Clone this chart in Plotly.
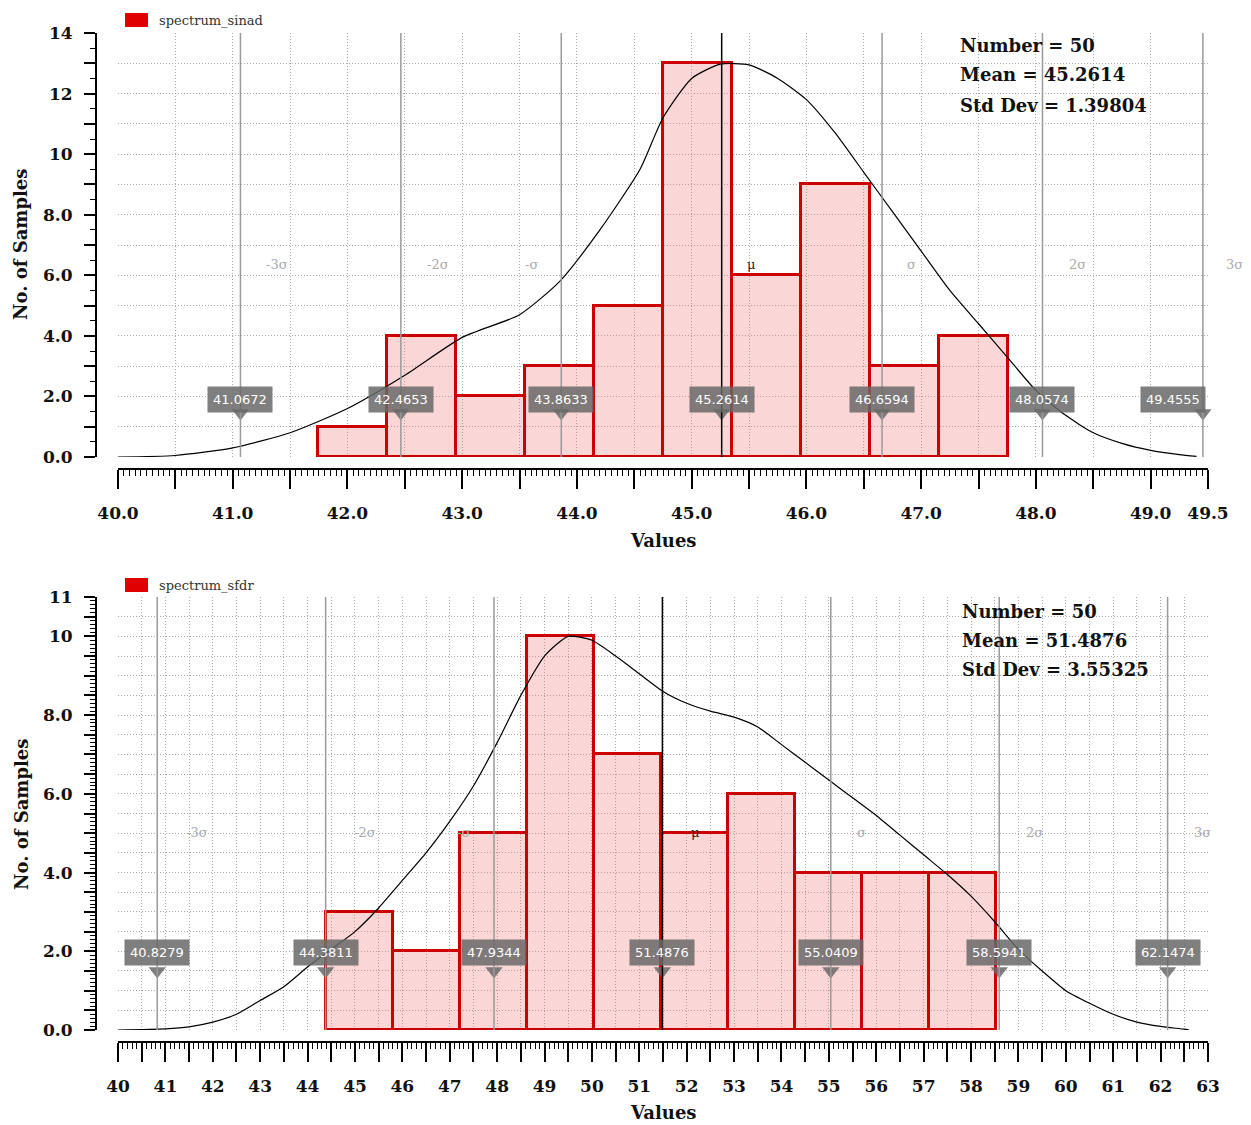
import plotly.graph_objects as go

# ---------------- data: spectrum_sinad (top) ----------------
sinad_name = "spectrum_sinad"
sinad_bin_start = 41.745
sinad_bin_width = 0.6015
sinad_counts = [1, 4, 2, 3, 5, 13, 6, 9, 3, 4]
sinad_number = 50
sinad_mean = 45.2614
sinad_std = 1.39804
sinad_sigma_values = [41.0672, 42.4653, 43.8633, 45.2614, 46.6594, 48.0574, 49.4555]
sinad_curve_x = [40.0, 40.5, 41.0, 41.5, 42.0, 42.5, 43.0, 43.5, 43.85, 44.2, 44.55,
                 44.75, 45.0, 45.25, 45.5, 45.75, 46.0, 46.25, 46.5, 46.75, 47.0,
                 47.25, 47.5, 47.75, 48.0, 48.25, 48.5, 48.75, 49.0, 49.25, 49.4]
sinad_curve_y = [0.0, 0.05, 0.3, 0.8, 1.6, 2.7, 3.95, 4.7, 5.8, 7.5, 9.5,
                 11.2, 12.5, 12.97, 12.95, 12.5, 11.8, 10.7, 9.4, 8.1, 6.8,
                 5.5, 4.4, 3.3, 2.2, 1.4, 0.8, 0.45, 0.22, 0.08, 0.02]
sinad_xtick_vals = [40.0 + 0.5 * i for i in range(20)]
sinad_xtick_text = ["40.0", "", "41.0", "", "42.0", "", "43.0", "", "44.0", "", "45.0", "",
                    "46.0", "", "47.0", "", "48.0", "", "49.0", "49.5"]
sinad_ytick_vals = list(range(0, 15))
sinad_ytick_text = ["0.0", "", "2.0", "", "4.0", "", "6.0", "", "8.0", "", "10", "", "12", "", "14"]

# ---------------- data: spectrum_sfdr (bottom) ----------------
sfdr_name = "spectrum_sfdr"
sfdr_bin_start = 44.39
sfdr_bin_width = 1.413
sfdr_counts = [3, 2, 5, 10, 7, 5, 6, 4, 4, 4]
sfdr_number = 50
sfdr_mean = 51.4876
sfdr_std = 3.55325
sfdr_sigma_values = [40.8279, 44.3811, 47.9344, 51.4876, 55.0409, 58.5941, 62.1474]
sfdr_curve_x = [40.0, 41.0, 41.5, 42.0, 42.5, 43.0, 43.5, 44.0, 44.5, 45.0, 45.5, 46.0,
                46.5, 47.0, 47.5, 48.0, 48.5, 49.0, 49.5, 50.0, 50.5, 51.0, 51.5, 52.0,
                52.5, 53.0, 53.5, 54.0, 54.5, 55.0, 55.5, 56.0, 56.5, 57.0, 57.5, 58.0,
                58.5, 59.0, 59.5, 60.0, 60.5, 61.0, 61.5, 62.0, 62.5, 62.6]
sfdr_curve_y = [0.0, 0.03, 0.08, 0.2, 0.4, 0.75, 1.1, 1.6, 2.05, 2.5, 3.1, 3.8,
                4.5, 5.3, 6.2, 7.3, 8.5, 9.5, 10.0, 9.9, 9.5, 9.05, 8.6, 8.3,
                8.1, 7.95, 7.7, 7.25, 6.8, 6.35, 5.9, 5.45, 4.95, 4.45, 3.95, 3.4,
                2.75, 2.05, 1.5, 1.0, 0.68, 0.4, 0.2, 0.09, 0.02, 0.0]
sfdr_xtick_vals = [40.0 + 0.5 * i for i in range(47)]
sfdr_xtick_text = [str(int(v)) if v == int(v) else "" for v in sfdr_xtick_vals]
sfdr_ytick_vals = [0.5 * i for i in range(23)]
sfdr_ytick_text = [{0: "0.0", 4: "2.0", 8: "4.0", 12: "6.0", 16: "8.0", 20: "10", 22: "11"}.get(i, "")
                   for i in range(23)]

sigma_labels = ["-3σ", "-2σ", "-σ", "μ", "σ", "2σ", "3σ"]

# ---------------- styling ----------------
W, H = 1251, 1125
SERIF = "DejaVu Serif"
SANS = "DejaVu Sans"
PINK = "rgba(240,120,120,0.30)"
RED = "#cc0000"
GRID_DASH = "1px,2px"

def px_x(p):
    return p / W

def px_y(p):
    return 1 - p / H

fig = go.Figure()

panels = [
    dict(name=sinad_name, start=sinad_bin_start, width=sinad_bin_width, counts=sinad_counts,
         number=sinad_number, mean=sinad_mean, std=sinad_std, sig=sinad_sigma_values,
         cx=sinad_curve_x, cy=sinad_curve_y, xr=[40, 49.5], yr=[0, 14],
         xtv=sinad_xtick_vals, xtt=sinad_xtick_text, ytv=sinad_ytick_vals, ytt=sinad_ytick_text,
         xminor=0.05, yminor=0.5, top=33, bottom=457, xaxis_px=469,
         sig_label_y=6.37, sig_shift=[37, 37, -30, 29, 29, 35, 32],
         bubble_y=1.91, tri_y=1.45, last_shift=-30,
         stat_x=958, stat_y=[46, 75, 105], legend_y=20, title_y=540, ytitle_y=245,
         ax="", ),
    dict(name=sfdr_name, start=sfdr_bin_start, width=sfdr_bin_width, counts=sfdr_counts,
         number=sfdr_number, mean=sfdr_mean, std=sfdr_std, sig=sfdr_sigma_values,
         cx=sfdr_curve_x, cy=sfdr_curve_y, xr=[40, 63], yr=[0, 11],
         xtv=sfdr_xtick_vals, xtt=sfdr_xtick_text, ytv=sfdr_ytick_vals, ytt=sfdr_ytick_text,
         xminor=0.1, yminor=0.1, top=597, bottom=1030, xaxis_px=1042,
         sig_label_y=5.03, sig_shift=[40, 39, -31, 33, 31, 35, 35],
         bubble_y=1.98, tri_y=1.5, last_shift=0,
         stat_x=960, stat_y=[611, 640, 670], legend_y=585, title_y=1112, ytitle_y=815,
         ax="2"),
]

annotations = []
shapes = []

for p in panels:
    ax = p["ax"]
    xref = "x" + ax
    yref = "y" + ax
    xs = [p["start"] + p["width"] * (i + 0.5) for i in range(len(p["counts"]))]
    fig.add_trace(go.Bar(
        x=xs, y=p["counts"], width=p["width"], xaxis=xref, yaxis=yref,
        marker=dict(color=PINK, line=dict(color=RED, width=3)),
        showlegend=False, hoverinfo="skip"))
    fig.add_trace(go.Scatter(
        x=p["cx"], y=p["cy"], mode="lines", xaxis=xref, yaxis=yref,
        line=dict(color="black", width=1.2, shape="spline", smoothing=0.6),
        showlegend=False, hoverinfo="skip"))
    # sigma lines
    for i, v in enumerate(p["sig"]):
        shapes.append(dict(type="line", xref=xref, yref=yref + " domain", x0=v, x1=v, y0=0, y1=1,
                           line=dict(color="black" if i == 3 else "#9a9a9a", width=1.5),
                           layer="above"))
        annotations.append(dict(x=v, y=p["sig_label_y"], xref=xref, yref=yref, text=sigma_labels[i],
                                showarrow=False, xshift=p["sig_shift"][i],
                                font=dict(family=SERIF, size=13, color="#222" if i == 3 else "#aaaaaa")))
    # callout pointers
    fig.add_trace(go.Scatter(
        x=p["sig"], y=[p["tri_y"]] * len(p["sig"]), mode="markers", xaxis=xref, yaxis=yref,
        marker=dict(symbol="triangle-down", size=15, color="rgba(105,105,105,0.85)", line=dict(width=0)),
        showlegend=False, hoverinfo="skip", cliponaxis=False))
    for i, v in enumerate(p["sig"]):
        annotations.append(dict(x=v, y=p["bubble_y"], xref=xref, yref=yref, text=f"{v:g}",
                                showarrow=False, xshift=(p["last_shift"] if i == 6 else 0),
                                bgcolor="rgba(105,105,105,0.85)", borderpad=5,
                                font=dict(family=SANS, size=13, color="white")))
    # statistics text
    stats = [f"Number = {p['number']}", f"Mean = {p['mean']}", f"Std Dev = {p['std']}"]
    for s, yy in zip(stats, p["stat_y"]):
        annotations.append(dict(x=px_x(p["stat_x"]), y=px_y(yy), xref="paper", yref="paper", text=s,
                                showarrow=False, xanchor="left", yanchor="middle",
                                font=dict(family=SERIF, size=18, color="#111", weight="bold")))
    # legend
    shapes.append(dict(type="rect", xref="paper", yref="paper",
                       x0=px_x(125), x1=px_x(148), y0=px_y(p["legend_y"] + 7), y1=px_y(p["legend_y"] - 7),
                       fillcolor="#e00000", line=dict(width=0)))
    annotations.append(dict(x=px_x(157), y=px_y(p["legend_y"]), xref="paper", yref="paper", text=p["name"],
                            showarrow=False, xanchor="left", yanchor="middle",
                            font=dict(family=SERIF, size=13, color="#333")))
    # axis titles
    annotations.append(dict(x=px_x(663), y=px_y(p["title_y"]), xref="paper", yref="paper", text="Values",
                            showarrow=False, xanchor="center", yanchor="middle",
                            font=dict(family=SERIF, size=18, color="#111", weight="bold")))
    annotations.append(dict(x=px_x(21), y=px_y(p["ytitle_y"]), xref="paper", yref="paper",
                            text="No. of Samples", textangle=-90,
                            showarrow=False, xanchor="center", yanchor="middle",
                            font=dict(family=SERIF, size=18, color="#111", weight="bold")))

    xa = dict(domain=[px_x(118), px_x(1208)], anchor="free", position=px_y(p["xaxis_px"]),
              range=p["xr"], showline=True, linecolor="black", linewidth=2, automargin=False,
              ticks="outside", ticklen=19, tickwidth=1.5, tickcolor="black",
              tickmode="array", tickvals=p["xtv"], ticktext=p["xtt"],
              ticklabelstandoff=10,
              tickfont=dict(family=SERIF, size=17, color="#111", weight="bold"),
              showgrid=True, gridcolor="#a8a8a8", griddash=GRID_DASH, gridwidth=1, zeroline=False,
              minor=dict(tickmode="linear", tick0=p["xr"][0], dtick=p["xminor"], ticks="outside",
                         ticklen=6, tickwidth=1.2, tickcolor="black", showgrid=False))
    ya = dict(domain=[px_y(p["bottom"]), px_y(p["top"])], anchor="free", position=px_x(96),
              range=p["yr"], showline=True, linecolor="black", linewidth=2, automargin=False,
              ticks="outside", ticklen=11, tickwidth=1.5, tickcolor="black",
              tickmode="array", tickvals=p["ytv"], ticktext=p["ytt"],
              ticklabelstandoff=8,
              tickfont=dict(family=SERIF, size=17, color="#111", weight="bold"),
              showgrid=True, gridcolor="#a8a8a8", griddash=GRID_DASH, gridwidth=1, zeroline=False,
              minor=dict(tickmode="linear", tick0=0, dtick=p["yminor"], ticks="outside",
                         ticklen=5, tickwidth=1.2, tickcolor="black", showgrid=False))
    fig.update_layout(**{"xaxis" + ax: xa, "yaxis" + ax: ya})

fig.update_layout(
    width=W, height=H, margin=dict(l=0, r=0, t=0, b=0, autoexpand=False),
    paper_bgcolor="white", plot_bgcolor="white",
    barmode="overlay", bargap=0,
    shapes=shapes, annotations=annotations, showlegend=False,
)

fig.write_html("out.html")
